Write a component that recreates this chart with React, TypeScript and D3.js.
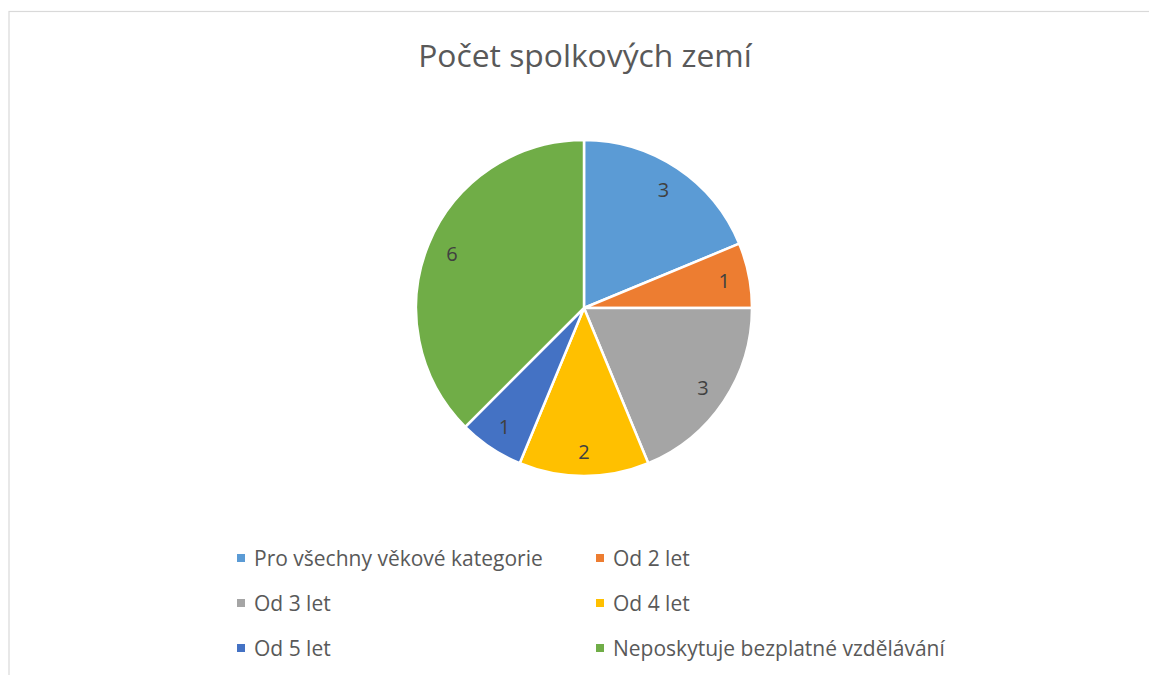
import React from "react";
import * as d3 from "d3";

const title = "Počet spolkových zemí";
const categories = [
  "Pro všechny věkové kategorie",
  "Od 2 let",
  "Od 3 let",
  "Od 4 let",
  "Od 5 let",
  "Neposkytuje bezplatné vzdělávání",
];
const values = [3, 1, 3, 2, 1, 6];
const colors = ["#5B9BD5", "#ED7D31", "#A5A5A5", "#FFC000", "#4472C4", "#70AD47"];

const W = 1149;
const H = 675;
const FONT = "'Open Sans', 'Noto Sans', sans-serif";

export default function App() {
  const cx = 584;
  const cy = 308;
  const R = 168;
  const pie = d3.pie<number>().sort(null).value((d) => d)(values);
  const arc = d3.arc<d3.PieArcDatum<number>>().innerRadius(0).outerRadius(R);
  const labelArc = d3.arc<d3.PieArcDatum<number>>().innerRadius(143 * 2 - R).outerRadius(R);
  const legendX = [237, 596];
  const legendY = [558, 603, 648];
  return (
    <svg width={W} height={H} style={{ position: "absolute", left: 0, top: 0 }}>
      <rect x={0} y={0} width={W} height={H} fill="#fff" />
      <rect x={9} y={11.5} width={W + 10} height={H + 10} fill="none" stroke="#d9d9d9" strokeWidth={1.2} />
      <text x={585} y={67} textAnchor="middle" fontFamily={FONT} fontSize={31.8} fill="#595959">
        {title}
      </text>
      <g transform={`translate(${cx},${cy})`}>
        {pie.map((p, i) => (
          <path key={i} d={arc(p) || ""} fill={colors[i]} stroke="#fff" strokeWidth={2.5} strokeLinejoin="round" />
        ))}
        {pie.map((p, i) => {
          const [x, y] = labelArc.centroid(p);
          return (
            <text key={"l" + i} x={x} y={y} textAnchor="middle" dominantBaseline="central" fontFamily={FONT} fontSize={20} fill="#404040">
              {values[i]}
            </text>
          );
        })}
      </g>
      {categories.map((c, i) => {
        const col = i % 2;
        const row = Math.floor(i / 2);
        const x = legendX[col];
        const y = legendY[row];
        return (
          <g key={"g" + i}>
            <rect x={x} y={y - 4} width={8} height={8} fill={colors[i]} />
            <text x={x + 17} y={y} dominantBaseline="central" fontFamily={FONT} fontSize={21} fill="#595959">
              {c}
            </text>
          </g>
        );
      })}
    </svg>
  );
}
